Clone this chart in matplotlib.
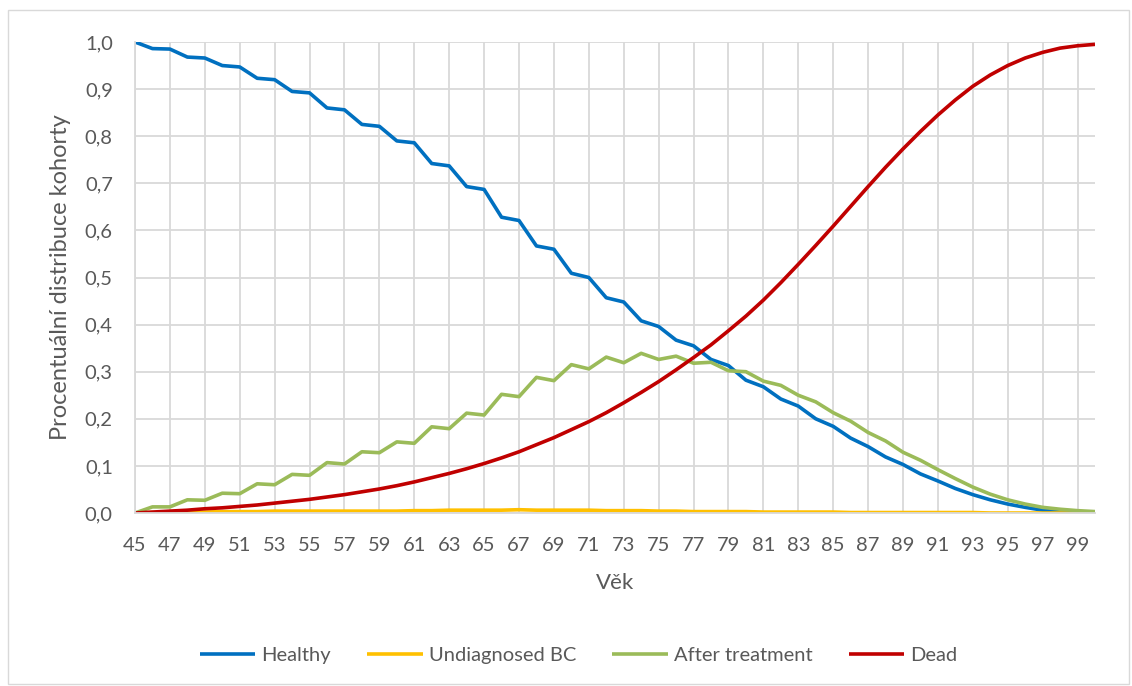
import matplotlib.pyplot as plt
import numpy as np
from matplotlib.patches import Rectangle

# vek 45..100
vek = list(range(45, 101))

healthy = [1.000, 0.986, 0.985, 0.968, 0.966, 0.950, 0.947, 0.923, 0.920, 0.895,
           0.892, 0.860, 0.856, 0.825, 0.821, 0.790, 0.786, 0.742, 0.737, 0.693,
           0.687, 0.628, 0.621, 0.567, 0.560, 0.509, 0.500, 0.457, 0.448, 0.408,
           0.396, 0.367, 0.355, 0.326, 0.313, 0.282, 0.268, 0.242, 0.227, 0.200,
           0.184, 0.159, 0.141, 0.119, 0.103, 0.083, 0.068, 0.052, 0.039, 0.028,
           0.019, 0.012, 0.006, 0.004, 0.002, 0.001]

undiagnosed = [0.000, 0.001, 0.001, 0.002, 0.002, 0.003, 0.003, 0.003, 0.004, 0.004,
               0.004, 0.004, 0.004, 0.004, 0.004, 0.004, 0.005, 0.005, 0.006, 0.006,
               0.006, 0.006, 0.007, 0.006, 0.006, 0.006, 0.006, 0.005, 0.005, 0.005,
               0.004, 0.004, 0.003, 0.003, 0.003, 0.003, 0.002, 0.002, 0.002, 0.002,
               0.002, 0.001, 0.001, 0.001, 0.001, 0.001, 0.001, 0.001, 0.001, 0.000,
               0.000, 0.000, 0.000, 0.000, 0.000, 0.000]

after_treatment = [0.000, 0.013, 0.013, 0.028, 0.027, 0.042, 0.041, 0.062, 0.060, 0.082,
                   0.080, 0.107, 0.104, 0.130, 0.128, 0.151, 0.148, 0.183, 0.179, 0.212,
                   0.208, 0.252, 0.247, 0.288, 0.281, 0.315, 0.306, 0.331, 0.319, 0.339,
                   0.326, 0.333, 0.318, 0.320, 0.302, 0.300, 0.280, 0.271, 0.250, 0.236,
                   0.213, 0.195, 0.171, 0.153, 0.129, 0.112, 0.092, 0.073, 0.055, 0.040,
                   0.028, 0.019, 0.012, 0.008, 0.005, 0.003]

dead = [0.000, 0.002, 0.004, 0.006, 0.009, 0.011, 0.014, 0.017, 0.021, 0.025,
        0.029, 0.034, 0.039, 0.045, 0.051, 0.058, 0.066, 0.075, 0.084, 0.094,
        0.105, 0.117, 0.130, 0.145, 0.160, 0.177, 0.194, 0.213, 0.234, 0.256,
        0.279, 0.304, 0.330, 0.357, 0.387, 0.418, 0.452, 0.489, 0.528, 0.568,
        0.609, 0.651, 0.693, 0.734, 0.773, 0.810, 0.845, 0.877, 0.906, 0.930,
        0.950, 0.966, 0.978, 0.987, 0.992, 0.995]

serie = [("Healthy", healthy, "#0070C0"),
         ("Undiagnosed BC", undiagnosed, "#FFC000"),
         ("After treatment", after_treatment, "#9BBB59"),
         ("Dead", dead, "#C00000")]

plt.rcParams['font.family'] = ['Lato', 'DejaVu Sans']
SEDA = "#595959"

fig = plt.figure(figsize=(11.32, 6.86), dpi=100)
ax = fig.add_axes([135 / 1132, 1 - 513 / 686, 960 / 1132, 471 / 686])

for nazev, hodnoty, barva in serie:
    ax.plot(vek, hodnoty, color=barva, lw=2.6, label=nazev, solid_capstyle='butt')

ax.set_xlim(45, 100)
ax.set_ylim(0, 1.0)
ax.set_xticks(range(45, 100, 2))
ax.set_yticks(np.arange(0, 1.01, 0.1))
ax.set_yticklabels([f"{v:.1f}".replace('.', ',') for v in np.arange(0, 1.01, 0.1)])
ax.grid(True, color="#d9d9d9", lw=1.3)
ax.set_axisbelow(True)
ax.tick_params(length=0, labelsize=14.5, colors=SEDA)
ax.tick_params(axis='x', pad=17)
ax.tick_params(axis='y', pad=16)
for s in ["top", "right"]:
    ax.spines[s].set_visible(False)
for s in ["left", "bottom"]:
    ax.spines[s].set_color("#d9d9d9")
    ax.spines[s].set_linewidth(1.3)

ax.set_xlabel("Věk", fontsize=16, color=SEDA, labelpad=14)
ax.set_ylabel("Procentuální distribuce kohorty", fontsize=17, color=SEDA, labelpad=10)

fig.legend(loc='center', bbox_to_anchor=(0.511, 0.045), ncol=4, frameon=False,
           fontsize=14.5, handlelength=2.75, columnspacing=1.8, handletextpad=0.3,
           labelcolor=SEDA)

fig.patches.append(Rectangle((8 / 1132, 2 / 686), 1121 / 1132, 674 / 686,
                             transform=fig.transFigure, fill=False,
                             edgecolor="#d9d9d9", lw=1.0))

fig.savefig("out.png", dpi=100)
